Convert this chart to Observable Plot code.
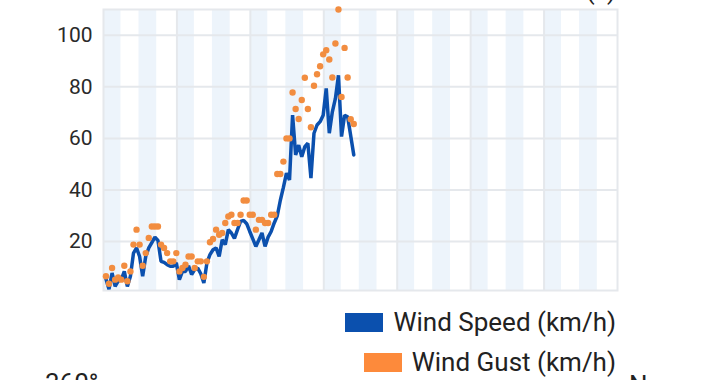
<!DOCTYPE html>
<html><head><meta charset="utf-8">
<script src="https://cdn.jsdelivr.net/npm/d3@7"></script>
<script src="https://cdn.jsdelivr.net/npm/@observablehq/plot@0.6"></script>
<style>
html,body{margin:0;padding:0;background:#fff;width:720px;height:380px;overflow:hidden;font-family:Roboto,sans-serif;}
#wrap{position:relative;width:720px;height:380px;overflow:hidden;}
#chart{position:absolute;left:0;top:0;}
.leg{position:absolute;right:104px;display:flex;align-items:center;font-size:26px;color:#222;line-height:30px;height:30px;white-space:nowrap;}
.sw{display:inline-block;width:38px;height:19px;margin-right:10px;}
.txt{position:absolute;font-size:26px;line-height:26px;color:#222;white-space:nowrap;}
</style>
</head><body>
<div id="wrap">
  <div id="chart"></div>
  <div class="txt" style="right:104px;top:-23px;">(?)</div>
  <div class="leg" style="top:307px;"><span class="sw" style="background:#0b50ae"></span>Wind Speed (km/h)</div>
  <div class="leg" style="top:347px;"><span class="sw" style="background:#fd8a3b"></span>Wind Gust (km/h)</div>
  <div class="txt" style="left:45px;top:370px;">360°</div>
  <div class="txt" style="left:629px;top:372px;">N</div>
</div>
<script>
// hourly readings, first reading at hour 0.8 of the 7-day window
const firstHour = 0.8;
const windSpeed = [5.5, 1.5, 7.8, 2.6, 4.6, 5.2, 8.4, 2.6, 6.5, 15.5,
 17.5, 14.2, 6.5, 14.2, 17.5, 19.6, 21.7, 20.4, 12.3, 11.9,
 11.0, 10.4, 10.4, 11.7, 5.2, 8.4, 8.4, 10.6, 7.2, 9.1,
 9.7, 7.5, 3.9, 11.7, 14.9, 16.8, 17.5, 14.2, 20.7, 18.8,
 24.6, 23.3, 21.2, 24.6, 27.8, 28.2, 26.9, 23.9, 21.0, 18.1,
 20.7, 23.3, 18.1, 21.7, 23.9, 27.2, 30.0, 36.0, 41.0, 46.5,
 43.9, 69.0, 53.6, 57.4, 52.9, 56.8, 58.1, 44.6, 62.0, 65.2,
 66.5, 69.0, 79.4, 62.0, 70.3, 75.5, 84.5, 60.7, 69.0, 68.4,
 61.0, 53.6];
const windGust = [6.5, 3.6, 9.7, 5.2, 6.1, 5.2, 10.6, 4.6, 8.4, 18.8,
 24.6, 18.8, 10.6, 15.5, 21.4, 25.8, 25.8, 25.8, 18.8, 17.5,
 15.5, 12.3, 12.3, 15.5, 8.4, 9.7, 11.0, 14.2, 14.2, 9.7,
 12.3, 12.3, 6.3, 12.3, 19.7, 21.0, 24.6, 22.6, 23.3, 27.2,
 29.7, 30.4, 27.2, 27.2, 30.4, 35.9, 35.9, 30.4, 30.4, 24.6,
 28.4, 28.4, 27.2, 27.2, 30.4, 30.4, 46.2, 46.2, 51.0, 60.0,
 60.0, 77.8, 71.4, 67.5, 74.9, 83.5, 71.4, 64.3, 80.4, 84.9,
 88.0, 92.6, 94.2, 90.6, 83.6, 96.8, 110.0, 76.1, 95.1, 83.6,
 67.4, 65.6];
const yTicks = [20, 40, 60, 80, 100];
const dayLines = [24, 48, 72, 96, 120, 144];
const days = [0, 1, 2, 3, 4, 5, 6];
const bandOffsets = [[0, 5.7], [11.6, 17.4]];

const data = windSpeed.map((s, i) => ({hour: firstHour + i, speed: s, gust: windGust[i]}));
const bands = days.flatMap(d => bandOffsets.map(([a, b]) => ({x1: d * 24 + a, x2: d * 24 + b})));

const grid = "#e5e8ec";
const chart = Plot.plot({
  width: 720,
  height: 300,
  marginLeft: 103,
  marginRight: 103,
  marginTop: 9,
  marginBottom: 10,
  style: {fontFamily: "Roboto, sans-serif", color: "#2a2a2a", background: "transparent"},
  x: {domain: [0, 168], axis: null},
  y: {domain: [1, 110]},
  marks: [
    Plot.rect(bands, {x1: "x1", x2: "x2", fill: "#edf4fb"}),
    Plot.gridY(yTicks, {stroke: grid, strokeOpacity: 1, strokeWidth: 2}),
    Plot.ruleX(dayLines, {stroke: grid, strokeWidth: 2}),
    Plot.frame({stroke: grid, strokeWidth: 2}),
    Plot.axisY(yTicks, {tickSize: 0, tickPadding: 11, fontSize: 21, fill: "#2a2a2a"}),
    Plot.line(data, {x: "hour", y: "speed", stroke: "#0b50ae", strokeWidth: 3.5, strokeLinejoin: "miter"}),
    Plot.dot(data, {x: "hour", y: "gust", r: 3.2, fill: "#f28d40", stroke: "none"})
  ]
});
document.getElementById("chart").appendChild(chart);
</script>
</body></html>
